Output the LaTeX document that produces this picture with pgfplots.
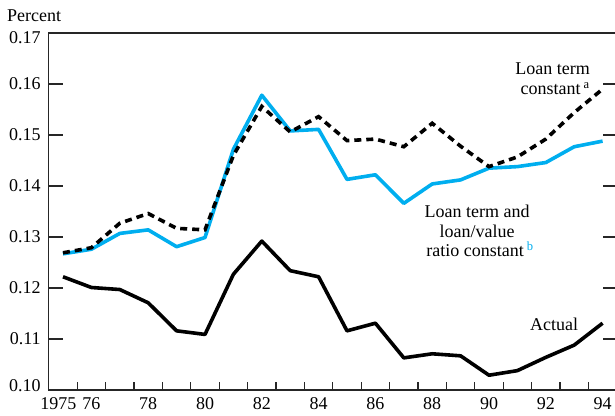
\documentclass[border=0pt]{standalone}
\usepackage{pgfplots}
\pgfplotsset{compat=1.18}
\usepackage{fontspec}
\setmainfont{Liberation Serif}
\definecolor{cyanblue}{RGB}{0,174,239}
\begin{document}
\begin{tikzpicture}[x=1pt,y=1pt]
\useasboundingbox (0,0) rectangle (615,415);
\begin{axis}[
  scale only axis,
  width=568pt, height=357pt,
  at={(48.8pt,25pt)}, anchor=south west,
  xmin=1974.5, xmax=1994.5,
  ymin=0.10, ymax=0.17,
  font=\fontsize{18}{21}\selectfont,
  axis line style={line width=1.2pt, black!85},
  xtick={1975,1976,1978,1980,1982,1984,1986,1988,1990,1992,1994},
  xticklabels={{\kern-9pt 1975},76,78,80,82,84,86,88,90,92,94},
  major x tick style={draw=none},
  minor xtick={1975.5,1976.5,...,1993.5},
  minor x tick style={line width=1.2pt, black!85},
  minor tick length=8pt,
  xtick pos=left,
  ytick={0.10,0.11,0.12,0.13,0.14,0.15,0.16,0.17},
  yticklabels={{\raisebox{4pt}[\height][\depth]{0.10}},0.11,0.12,0.13,0.14,0.15,0.16,{\raisebox{-5pt}[\height][\depth]{0.17}}},
  ytick pos=both,
  major tick length=14pt,
  y tick style={line width=1.2pt, black!85},
  tick align=inside,
  yticklabel style={inner xsep=8pt},
  xticklabel style={inner ysep=7pt},
  clip=false,
]
\addplot[cyanblue, line width=3.6pt, line join=round] coordinates {
(1975,0.1267) (1976,0.1276) (1977,0.1307) (1978,0.1314) (1979,0.1281)
(1980,0.1299) (1981,0.1472) (1982,0.1578) (1983,0.1508) (1984,0.1511)
(1985,0.1413) (1986,0.1422) (1987,0.1366) (1988,0.1404) (1989,0.1412)
(1990,0.1435) (1991,0.1438) (1992,0.1446) (1993,0.1477) (1994,0.1488)
};
\addplot[black, line width=3.6pt, dash pattern=on 7pt off 5pt] coordinates {
(1975,0.1269) (1976,0.1279) (1977,0.1327) (1978,0.1346) (1979,0.1317)
(1980,0.1314) (1981,0.1460) (1982,0.1556) (1983,0.1506) (1984,0.1536)
(1985,0.1489) (1986,0.1492) (1987,0.1477) (1988,0.1523) (1989,0.1478)
(1990,0.1438) (1991,0.1457) (1992,0.1492) (1993,0.1544) (1994,0.1590)
};
\addplot[black, line width=3.6pt, line join=round] coordinates {
(1975,0.1222) (1976,0.1201) (1977,0.1197) (1978,0.1171) (1979,0.1116)
(1980,0.1109) (1981,0.1227) (1982,0.1292) (1983,0.1234) (1984,0.1222)
(1985,0.1116) (1986,0.1131) (1987,0.1063) (1988,0.1071) (1989,0.1067)
(1990,0.1029) (1991,0.1038) (1992,0.1064) (1993,0.1088) (1994,0.1131)
};
\end{axis}
\begin{scope}[every node/.style={font=\fontsize{18}{21}\selectfont, inner sep=0pt}]
\node[anchor=base west] at (7,393) {Percent};
\node[anchor=base east] at (590,340) {Loan term};
\node[anchor=base east] at (590,320) {constant\,\textsuperscript{a}};
\node[anchor=base] at (477,197) {Loan term and};
\node[anchor=base] at (477,177) {loan/value};
\node[anchor=base] at (480,158) {ratio constant\,\textsuperscript{\textcolor{cyanblue}{b}}};
\node[anchor=base] at (554,85) {Actual};
\end{scope}
\end{tikzpicture}
\end{document}
